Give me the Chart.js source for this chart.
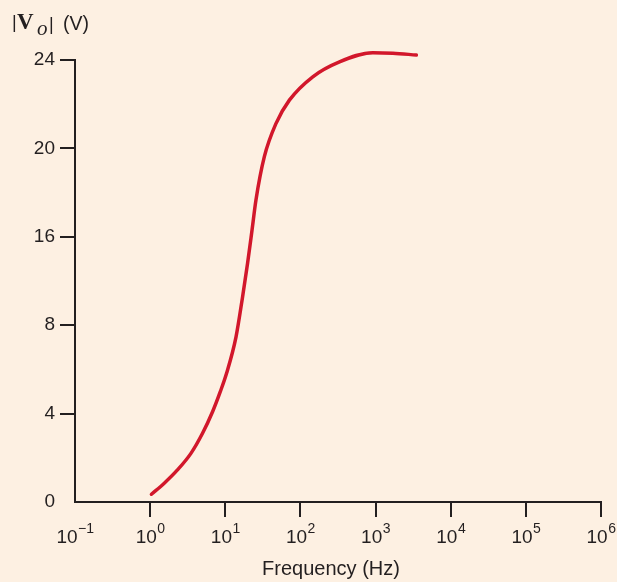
<!DOCTYPE html>
<html>
<head>
<meta charset="utf-8">
<script src="https://cdn.jsdelivr.net/npm/chart.js@4.4.1/dist/chart.umd.min.js"></script>
<style>
  html, body { margin: 0; padding: 0; background: #fdf0e2; }
  #wrap { width: 617px; height: 582px; }
</style>
</head>
<body>
<div id="wrap"><canvas id="c" width="617" height="582"></canvas></div>
<script>
// ---- data ----
const freqHz = [1.04, 1.54, 2.31, 3.49, 4.98, 6.77, 8.58, 10.4, 13.9, 17.0, 19.8, 22.7, 25.6, 33.1, 47.4, 71.3, 146, 331, 920, 1700, 3490];
const voltsV = [0.42, 1.02, 1.74, 2.64, 3.73, 4.90, 5.99, 6.99, 8.97, 11.15, 12.96, 14.77, 16.4, 18.75, 20.56, 21.82, 23.09, 23.90, 24.40, 24.37, 24.27];
const xTickExponents = [-1, 0, 1, 2, 3, 4, 5, 6];
const yTickPositions = [0, 4.8, 9.6, 14.4, 19.2, 24];
const yTickLabels = ['0', '4', '8', '16', '20', '24'];
const xTitle = 'Frequency (Hz)';

const INK = '#231f20';
const BG = '#fdf0e2';
const SANS = '"Liberation Sans", Arial, Helvetica, sans-serif';
const SERIF = '"Liberation Serif", "Times New Roman", serif';

const points = freqHz.map((f, i) => ({ x: f, y: voltsV[i] }));

const bgPlugin = {
  id: 'bg',
  beforeDraw(chart) {
    const ctx = chart.ctx;
    ctx.save();
    ctx.fillStyle = BG;
    ctx.fillRect(0, 0, chart.width, chart.height);
    ctx.restore();
  }
};

const textPlugin = {
  id: 'texts',
  afterDraw(chart) {
    const ctx = chart.ctx;
    const xs = chart.scales.x;
    ctx.save();
    ctx.fillStyle = INK;
    ctx.textBaseline = 'alphabetic';
    // x tick labels 10^n
    const baseFont = '19px ' + SANS;
    const supFont = '14px ' + SANS;
    xTickExponents.forEach(e => {
      const px = xs.getPixelForValue(Math.pow(10, e));
      const supTxt = e < 0 ? '\u2212' + Math.abs(e) : String(e);
      ctx.font = baseFont;
      const w1 = ctx.measureText('10').width;
      ctx.font = supFont;
      const w2 = ctx.measureText(supTxt).width;
      const start = px - (w1 + w2) / 2;
      ctx.textAlign = 'left';
      ctx.font = baseFont;
      ctx.fillText('10', start, 543);
      ctx.font = supFont;
      ctx.fillText(supTxt, start + w1 + 0.5, 533);
    });
    // x title
    ctx.font = '20px ' + SANS;
    ctx.textAlign = 'center';
    ctx.fillText(xTitle, 331, 575);
    // y title |V_o| (V)
    ctx.textAlign = 'left';
    ctx.font = '18px ' + SANS;
    ctx.fillText('|', 12, 28);
    ctx.font = 'bold 23px ' + SERIF;
    ctx.fillText('V', 17, 29);
    ctx.font = 'italic 21px ' + SERIF;
    ctx.fillText('o', 37, 34.5);
    ctx.font = '18px ' + SANS;
    ctx.fillText('|', 49, 30);
    ctx.font = '19.5px ' + SANS;
    ctx.fillText('(V)', 63, 30);
    ctx.restore();
  }
};

new Chart(document.getElementById('c'), {
  type: 'line',
  data: {
    datasets: [{
      data: points,
      borderColor: '#d2172b',
      borderWidth: 3.5,
      pointRadius: 0,
      fill: false,
      cubicInterpolationMode: 'monotone',
      borderCapStyle: 'round',
      clip: false
    }]
  },
  options: {
    responsive: false,
    animation: false,
    devicePixelRatio: 1,
    layout: { padding: { left: 0, top: 60, right: 16, bottom: 0 } },
    plugins: { legend: { display: false }, tooltip: { enabled: false }, title: { display: false } },
    scales: {
      x: {
        type: 'logarithmic',
        min: 0.1,
        max: 1e6,
        afterBuildTicks(scale) {
          scale.ticks = xTickExponents.map(e => ({ value: Math.pow(10, e) }));
        },
        afterFit(scale) { scale.height = 80; },
        border: { display: true, color: INK, width: 2 },
        grid: {
          display: true,
          drawOnChartArea: false,
          drawTicks: true,
          tickLength: 15,
          lineWidth: 2,
          color: ctx => ctx.index === 0 ? 'rgba(0,0,0,0)' : INK
        },
        ticks: { display: false }
      },
      y: {
        type: 'linear',
        min: 0,
        max: 24,
        afterBuildTicks(scale) {
          scale.ticks = yTickPositions.map(v => ({ value: v }));
        },
        afterFit(scale) { scale.width = 75; },
        border: { display: true, color: INK, width: 2 },
        grid: {
          display: true,
          drawOnChartArea: false,
          drawTicks: true,
          tickLength: 15,
          lineWidth: 2,
          color: ctx => ctx.index === 0 ? 'rgba(0,0,0,0)' : INK
        },
        ticks: {
          color: INK,
          padding: 5,
          font: { family: SANS, size: 19 },
          callback: (v, i) => yTickLabels[i]
        }
      }
    }
  },
  plugins: [bgPlugin, textPlugin]
});
</script>
</body>
</html>
